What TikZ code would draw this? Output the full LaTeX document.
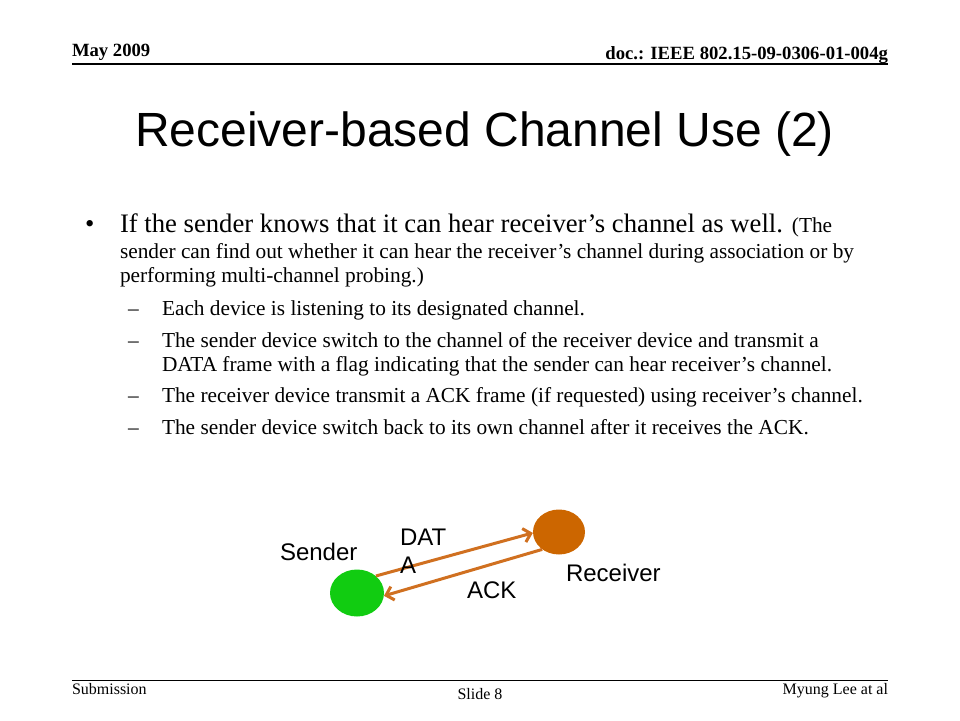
\documentclass[tikz,border=0pt]{standalone}
\usepackage{fontspec}
\setmainfont{Liberation Serif}
\newfontfamily\arialf{Liberation Sans}
\usetikzlibrary{shapes.geometric,arrows.meta}
\definecolor{sgreen}{RGB}{17,204,17}
\definecolor{rorange}{RGB}{204,102,0}
\definecolor{aorange}{RGB}{208,112,32}
\tikzset{
  txt/.style={anchor=base west,inner sep=0pt,outer sep=0pt},
  hdr/.style={inner sep=0pt,outer sep=0pt,font=\fontsize{18.67}{22}\selectfont\bfseries},
  ftr/.style={inner sep=0pt,outer sep=0pt,font=\fontsize{16}{19}\selectfont},
  big/.style={txt,font=\fontsize{26.67}{32}\selectfont},
  sub/.style={txt,font=\fontsize{21.33}{26}\selectfont},
  lbl/.style={txt,font=\arialf\fontsize{24}{28}\selectfont},
  dev/.style={ellipse,draw=none,inner sep=0pt},
  msg/.style={draw=aorange,line width=3pt,-{Straight Barb[length=7pt,width=14pt,line width=3pt]}},
}
\begin{document}
\begin{tikzpicture}[x=1pt,y=-1pt]
\useasboundingbox (0,0) rectangle (960,720);
% header
\node[hdr,anchor=base west] (date) at (72,56) {May 2009};
\node[hdr,anchor=base east] (doc) at (888,59) {doc.: IEEE 802.15-09-0306-01-004g};
\coordinate (hl) at (72,64);
\coordinate (hr) at (888,64);
\draw[line width=1.5pt] (hl) -- (hr);
% title
\node[inner sep=0pt,anchor=base,font=\arialf\fontsize{48}{56}\selectfont] (title) at (484.5,146.7) {Receiver-based Channel Use (2)};
% body
\node[big] (bul) at (85,232) {•};
\node[big] (l1) at (120,232) {If the sender knows that it can hear receiver’s channel as well. {\fontsize{21.33}{26}\selectfont (The}};
\node[sub] (l2) at (120,258) {sender can find out whether it can hear the receiver’s channel during association or by};
\node[sub] (l3) at (120,282) {performing multi-channel probing.)};
\node[sub] (d1) at (128,315) {–};
\node[sub] (s1) at (162,315) {Each device is listening to its designated channel.};
\node[sub] (d2) at (128,347) {–};
\node[sub] (s2) at (162,347) {The sender device switch to the channel of the receiver device and transmit a};
\node[sub] (s2b) at (162,371) {DATA frame with a flag indicating that the sender can hear receiver’s channel.};
\node[sub] (d3) at (128,402) {–};
\node[sub] (s3) at (162,402) {The receiver device transmit a ACK frame (if requested) using receiver’s channel.};
\node[sub] (d4) at (128,434) {–};
\node[sub] (s4) at (162,434) {The sender device switch back to its own channel after it receives the ACK.};
% diagram
\node[dev,fill=sgreen,minimum width=54pt,minimum height=47pt] (sender) at (357,593) {};
\node[dev,fill=rorange,minimum width=52pt,minimum height=45pt] (receiver) at (559,532) {};
\draw[msg] (sender.42) -- (receiver.182);
\draw[msg] (receiver.226) -- (sender.-6);
\node[lbl] (snd) at (280,560) {Sender};
\node[lbl] (dat1) at (400,545) {DAT};
\node[lbl] (dat2) at (400,573) {A};
\node[lbl] (ack) at (467,598) {ACK};
\node[lbl] (rcv) at (566,581) {Receiver};
% footer
\coordinate (fl) at (72,680);
\coordinate (fr) at (888,680);
\draw[line width=1pt] (fl) -- (fr);
\node[ftr,anchor=base west] (subm) at (72,694) {Submission};
\node[ftr,anchor=base] (slide) at (480,699) {Slide 8};
\node[ftr,anchor=base east] (auth) at (888,694) {Myung Lee at al};
\end{tikzpicture}
\end{document}
